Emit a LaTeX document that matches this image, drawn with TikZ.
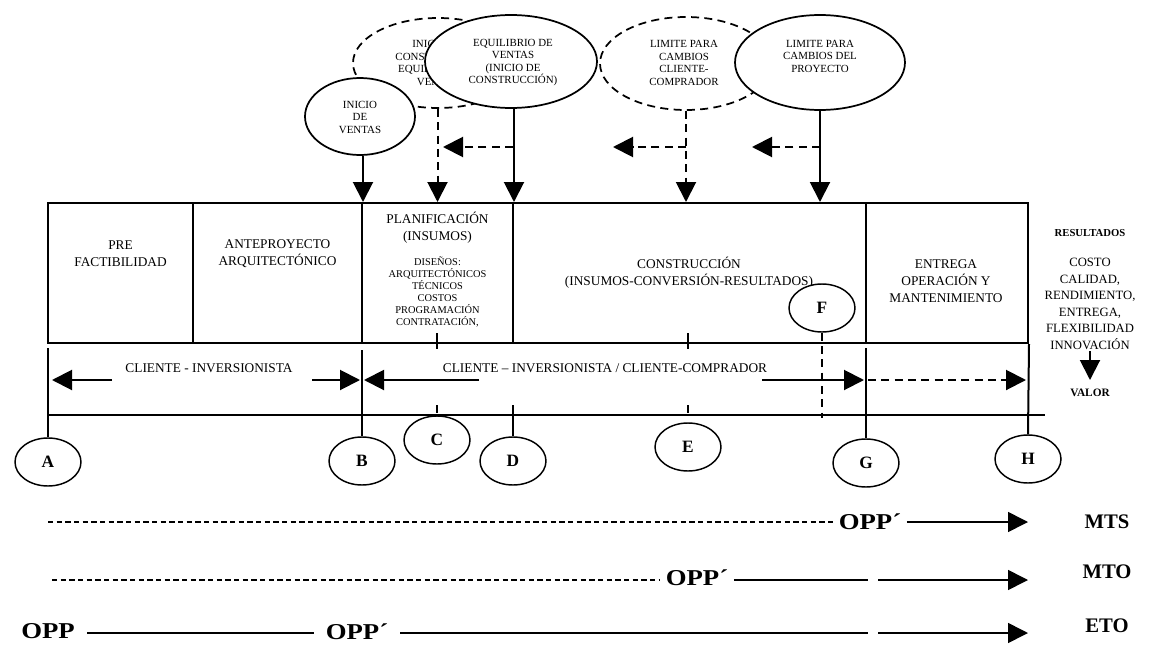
\documentclass[tikz,border=0pt]{standalone}
\usepackage{fontspec}
\setmainfont{Liberation Serif}
\newfontfamily\widebold[FakeStretch=1.18]{Liberation Serif}
\usetikzlibrary{shapes.geometric,arrows.meta}
\begin{document}
\begin{tikzpicture}[x=0.75pt,y=-0.75pt,
  tip/.style={-{Triangle[length=15pt,width=15pt]}},
  heavy/.style={line width=1.5pt},
  dashedline/.style={line width=1.5pt,dash pattern=on 6pt off 4pt},
  phase/.style={draw,line width=1.5pt,inner sep=0pt,minimum height=105pt},
  phasetext/.style={align=center,inner sep=0pt,font=\fontsize{10}{12.75}\selectfont},
  smalltext/.style={align=center,inner sep=0pt,font=\fontsize{7.8}{9}\selectfont},
  bubble/.style={ellipse,draw,line width=1.3pt,fill=white,inner sep=0pt},
  dashedbubble/.style={bubble,dash pattern=on 6pt off 4pt},
  bubbletext/.style={align=center,inner sep=0pt,font=\fontsize{8.2}{9.4}\selectfont},
  marker/.style={ellipse,draw,line width=1.1pt,fill=white,inner sep=0pt,
    minimum width=49.5pt,minimum height=36pt,font=\bfseries\fontsize{13}{13}\selectfont},
  flowlabel/.style={inner sep=2pt,font=\bfseries\fontsize{15.5}{15.5}\selectfont},
  opplabel/.style={inner sep=2pt,font=\widebold\bfseries\fontsize{17}{17}\selectfont},
  flowline/.style={line width=1.2pt},
  finedashed/.style={line width=0.9pt,dash pattern=on 4pt off 2.5pt},
  tickdash/.style={line width=1.2pt,dash pattern=on 12pt off 42pt on 6pt off 100pt},
]
\useasboundingbox (0,0) rectangle (1150,646);

% ---- milestone bubbles (dashed ones first, solid ones drawn over them)
\node[dashedbubble,minimum width=127.5pt,minimum height=67.5pt] (ic) at (438,63) {};
\node[bubbletext] (ict) at (438,63) {INICIO DE\\CONSTRUCCIÓN\\EQUILIBRIO DE\\VENTAS};
\node[dashedbubble,minimum width=129pt,minimum height=69.75pt] (lcc) at (686,63.5) {};
\node[bubbletext] (lcct) at (684,63) {LIMITE PARA\\CAMBIOS\\CLIENTE-\\COMPRADOR};
\node[bubble,minimum width=129pt,minimum height=69.75pt] (eq) at (511,61.5) {};
\node[bubbletext] (eqt) at (513,62.5) {EQUILIBRIO DE\\VENTAS\\(INICIO DE\\CONSTRUCCIÓN)};
\node[bubble,minimum width=82.5pt,minimum height=57.75pt] (iv) at (360,116.5) {};
\node[bubbletext] (ivt) at (360,117) {INICIO\\DE\\VENTAS};
\node[bubble,minimum width=127.5pt,minimum height=71.25pt] (lp) at (820,62.5) {};
\node[bubbletext] (lpt) at (820,56) {LIMITE PARA\\CAMBIOS DEL\\PROYECTO};

% ---- project phases
\node[phase,minimum width=108.75pt] (pre) at (120.5,273) {};
\node[phase,minimum width=126.75pt] (ante) at (277.5,273) {};
\node[phase,minimum width=113.25pt] (plan) at (437.5,273) {};
\node[phase,minimum width=264.75pt] (cons) at (689.5,273) {};
\node[phase,minimum width=121.5pt] (entr) at (947,273) {};

\node[phasetext] (pret) at (120.5,253.5) {PRE\\FACTIBILIDAD};
\node[phasetext] (antet) at (277.5,253.5) {ANTEPROYECTO\\ARQUITECTÓNICO};
\node[phasetext] (plant) at (437.5,228) {PLANIFICACIÓN\\(INSUMOS)};
\node[smalltext] (pland) at (437.5,292) {DISEÑOS:\\ARQUITECTÓNICOS\\TÉCNICOS\\COSTOS\\PROGRAMACIÓN\\CONTRATACIÓN,};
\node[phasetext] (const) at (689,273) {CONSTRUCCIÓN\\(INSUMOS-CONVERSIÓN-RESULTADOS)};
\node[phasetext] (entrt) at (946,281.5) {ENTREGA\\OPERACIÓN Y\\MANTENIMIENTO};

% ---- arrows from the milestones down to the phases
\draw[heavy,tip] (ante.north east |- iv.south) -- (ante.north east);
\draw[dashedline,tip] (plan.north |- ic.south) -- (plan.north);
\draw[heavy,tip] (plan.north east |- eq.south) -- (plan.north east);
\draw[dashedline,tip] (lcc.south) -- (lcc.south |- cons.north);
\draw[heavy,tip] (lp.south) -- (lp.south |- cons.north);

% ---- earlier-shift arrows
\coordinate (s1a) at (513,147); \coordinate (s1b) at (443,147);
\coordinate (s2a) at (686,147); \coordinate (s2b) at (613,147);
\coordinate (s3a) at (820,147); \coordinate (s3b) at (752,147);
\draw[dashedline,tip] (s1a) -- (s1b);
\draw[dashedline,tip] (s2a) -- (s2b);
\draw[dashedline,tip] (s3a) -- (s3b);

% ---- milestone markers
\node[marker] (A) at (48,462) {A};
\node[marker] (B) at (362,461) {B};
\node[marker] (C) at (437,440) {C};
\node[marker] (D) at (513,461) {D};
\node[marker] (E) at (688,447) {E};
\node[marker] (F) at (822,308) {F};
\node[marker] (G) at (866,463) {G};
\node[marker] (H) at (1028,459) {H};

% ---- client band
\coordinate (bandL) at (48,415); \coordinate (bandR) at (1045,415);
\draw[heavy] (bandL) -- (bandR);
\draw[heavy] (A.north |- 0,348) -- (A.north);
\draw[heavy] (B.north |- 0,350) -- (B.north);
\draw[heavy] (D.north |- 0,405) -- (D.north);
\draw[heavy] (G.north |- 0,348) -- (G.north);
\draw[heavy] (entr.south east) -- (H.north);
\draw[tickdash] (C.north |- 0,333) -- (C.north);
\draw[tickdash] (E.north |- 0,333) -- (E.north);
\draw[line width=1.2pt,dash pattern=on 6pt off 4pt] (F.south) -- (F.south |- 0,418);

\node[phasetext] (ci) at (209,368) {CLIENTE - INVERSIONISTA};
\node[phasetext] (cc) at (605,368) {CLIENTE – INVERSIONISTA / CLIENTE-COMPRADOR};

\coordinate (a1s) at (112,380); \coordinate (a1e) at (52,380);
\coordinate (a2s) at (312,380); \coordinate (a2e) at (360,380);
\coordinate (a3s) at (479,380); \coordinate (a3e) at (364,380);
\coordinate (a4s) at (762,380); \coordinate (a4e) at (864,380);
\coordinate (a5s) at (868,380); \coordinate (a5e) at (1026,380);
\draw[heavy,tip] (a1s) -- (a1e);
\draw[heavy,tip] (a2s) -- (a2e);
\draw[heavy,tip] (a3s) -- (a3e);
\draw[heavy,tip] (a4s) -- (a4e);
\draw[dashedline,tip] (a5s) -- (a5e);

% ---- results
\node[inner sep=0pt,font=\bfseries\fontsize{8}{8}\selectfont] (res) at (1090,233) {RESULTADOS};
\node[align=center,inner sep=0pt,font=\fontsize{9.5}{12.4}\selectfont] (resl) at (1090,304) {COSTO\\CALIDAD,\\RENDIMIENTO,\\ENTREGA,\\FLEXIBILIDAD\\INNOVACIÓN};
\node[inner sep=0pt,font=\bfseries\fontsize{8.5}{8.5}\selectfont] (valor) at (1090,393) {VALOR};
\coordinate (vs) at (1090,351); \coordinate (ve) at (1090,380);
\draw[heavy,tip] (vs) -- (ve);

% ---- decoupling point rows
\node[opplabel] (opp1) at (870,522) {OPP´};
\node[flowlabel] (mts) at (1107,522) {MTS};
\coordinate (m1s) at (48,522); \coordinate (m1e) at (1028,522);
\draw[finedashed] (m1s) -- ([xshift=-2pt]opp1.west);
\draw[flowline,tip] ([xshift=2pt]opp1.east) -- (m1e);

\node[opplabel] (opp2) at (697,578) {OPP´};
\node[flowlabel] (mto) at (1107,572) {MTO};
\coordinate (m2s) at (52,580); \coordinate (m2a) at (868,580);
\coordinate (m2b) at (878,580); \coordinate (m2e) at (1028,580);
\draw[finedashed] (m2s) -- ([xshift=-2pt]m2s -| opp2.west);
\draw[flowline] ([xshift=2pt]m2s -| opp2.east) -- (m2a);
\draw[flowline,tip] (m2b) -- (m2e);

\node[opplabel] (opp0) at (48,631) {OPP};
\node[opplabel] (opp3) at (357,632) {OPP´};
\node[flowlabel] (eto) at (1107,626) {ETO};
\coordinate (m3a) at (868,633); \coordinate (m3b) at (878,633); \coordinate (m3e) at (1028,633);
\draw[flowline] ([xshift=7pt]opp0.east |- m3a) -- ([xshift=-7pt]opp3.west |- m3a);
\draw[flowline] ([xshift=7pt]opp3.east |- m3a) -- (m3a);
\draw[flowline,tip] (m3b) -- (m3e);
\end{tikzpicture}
\end{document}
